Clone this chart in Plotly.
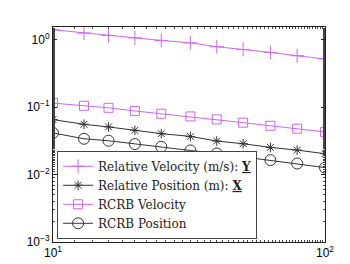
import plotly.graph_objects as go

x_vals = [10, 13, 16, 20, 25, 32, 40, 50, 63, 79, 100]
rel_velocity = [1.41, 1.26, 1.16, 1.07, 0.98, 0.90, 0.79, 0.72, 0.65, 0.58, 0.52]
rel_position = [0.0655, 0.0557, 0.051, 0.0454, 0.0405, 0.0369, 0.0315, 0.0287, 0.0253, 0.0231, 0.0204]
rcrb_velocity = [0.115, 0.105, 0.098, 0.088, 0.080, 0.073, 0.066, 0.059, 0.053, 0.048, 0.043]
rcrb_position = [0.0415, 0.034, 0.0318, 0.0284, 0.0259, 0.0228, 0.0206, 0.0184, 0.0164, 0.0146, 0.0127]

names = [
    "Relative Velocity (m/s): <b><u>Y</u></b>",
    "Relative Position (m): <b><u>X</u></b>",
    "RCRB Velocity",
    "RCRB Position",
]
x_ticks = [10, 100]
x_ticklabels = ["10<sup>1</sup>", "10<sup>2</sup>"]
y_ticks = [1e-3, 1e-2, 1e-1, 1]
y_ticklabels = ["10<sup>−3</sup>", "10<sup>−2</sup>", "10<sup>−1</sup>", "10<sup>0</sup>"]

purple = "#cc66ff"
dark = "#333333"

fig = go.Figure()
series = [
    (rel_velocity, purple, "cross-thin-open", 10),
    (rel_position, dark, "asterisk-open", 8),
    (rcrb_velocity, purple, "square-open", 9),
    (rcrb_position, dark, "circle-open", 11),
]
for (vals, col, sym, sz), nm in zip(series, names):
    fig.add_trace(go.Scatter(
        x=x_vals, y=vals, name=nm, mode="lines+markers",
        line=dict(color=col, width=1),
        marker=dict(symbol=sym, size=sz, color=col, line=dict(color=col, width=1)),
    ))

axis_common = dict(
    type="log", showgrid=False, zeroline=False, showline=True, mirror="allticks",
    linecolor="#222222", linewidth=1, ticks="inside", ticklen=4, tickcolor="#222222",
    tickfont=dict(family="Liberation Sans", size=12, color="black"),
    minor=dict(ticks="inside", ticklen=2, tickcolor="#444444"),
)
fig.update_xaxes(range=[1, 2], tickvals=x_ticks, ticktext=x_ticklabels, **axis_common)
fig.update_yaxes(range=[-3, 0.19], tickvals=y_ticks, ticktext=y_ticklabels, **axis_common)

fig.update_layout(
    width=350, height=264,
    margin=dict(l=45, r=33, t=19, b=30),
    paper_bgcolor="white", plot_bgcolor="white",
    legend=dict(
        x=0.015, y=0.015, xanchor="left", yanchor="bottom",
        bgcolor="white", bordercolor="#444444", borderwidth=1,
        font=dict(family="DejaVu Serif", size=12, color="#222222"),
        tracegroupgap=0, itemwidth=30,
    ),
)

fig.write_html("out.html")
